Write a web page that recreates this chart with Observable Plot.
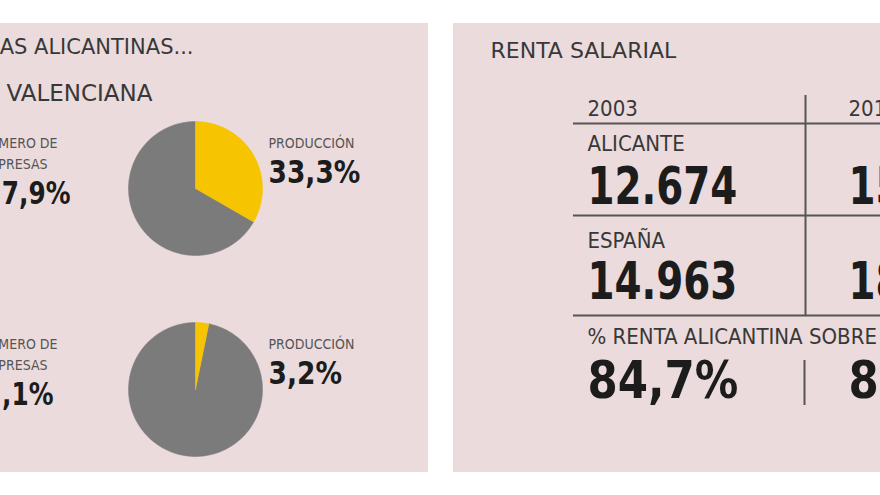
<!DOCTYPE html>
<html>
<head>
<meta charset="utf-8">
<script src="https://cdn.jsdelivr.net/npm/d3@7"></script>
<script src="https://cdn.jsdelivr.net/npm/@observablehq/plot@0.6"></script>
<style>
  html, body { margin: 0; padding: 0; background: #ffffff; overflow: hidden; }
  #chart svg { display: block; overflow: hidden; }
</style>
</head>
<body>
<div id="chart"></div>
<script>
// ---------- DATA ----------
const leftTitles = ["AS ALICANTINAS...", "COMUNIDAD VALENCIANA"];
const rightTitle = "RENTA SALARIAL";
const pieNames = ["Comunidad Valenciana", "España"];
const produccion = [33.3, 3.2];              // % production (yellow slice)
const produccionText = ["33,3%", "3,2%"];
const empresasText = ["7,9%", ",1%"];        // visible part of "nº de empresas" share
const labelEmpresas = ["NÚMERO DE", "EMPRESAS"];
const labelProduccion = "PRODUCCIÓN";
const years = ["2003", "201"];
const rowLabels = ["ALICANTE", "ESPAÑA", "% RENTA ALICANTINA SOBRE ESPAÑA"];
const alicante = ["12.674", "15"];
const espana = ["14.963", "18"];
const pctRenta = ["84,7%", "8,"];

// ---------- LAYOUT (pixel positions, not data) ----------
const W = 880, H = 495;
const panelColor = "#ebdbdc";
const yellow = "#f6c400", gray = "#7b7b7b", ink = "#1c1c1c", soft = "#383838", small = "#555555", lineC = "#555";
const pieCenters = [[195, 188], [195, 389]];
const R = 67;
const condF = "'DejaVu Sans Condensed', 'DejaVu Sans', sans-serif";
const wideF = "'DejaVu Sans', sans-serif";

const panels = [
  {x1: -10, x2: 428, y1: 23, y2: 472},
  {x1: 453, x2: 900, y1: 23, y2: 472}
];

// pie slice polygons computed from the production values
const slices = [];
pieNames.forEach((name, i) => {
  const [cx, cy] = pieCenters[i];
  const a = produccion[i] / 100 * 2 * Math.PI;
  const parts = [["yellow", 0, a], ["gray", a, 2 * Math.PI]];
  parts.forEach(([kind, a0, a1]) => {
    const id = name + "-" + kind;
    slices.push({id, kind, x: cx, y: cy});
    const n = Math.max(2, Math.ceil((a1 - a0) / (Math.PI / 180)));
    for (let k = 0; k <= n; k++) {
      const t = a0 + (a1 - a0) * k / n;
      slices.push({id, kind, x: cx + R * Math.sin(t), y: cy - R * Math.cos(t)});
    }
    slices.push({id, kind, x: cx, y: cy});
  });
});

// text groups
const titlesEnd = [
  {text: leftTitles[0], x: 193, y: 53, size: 21},
  {text: leftTitles[1], x: 152, y: 100, size: 23}
];
const titlesStart = [
  {text: rightTitle, x: 490, y: 57, size: 22}
];
const smallEnd = [], smallStart = [], pctEnd = [], pctStart = [];
pieNames.forEach((name, i) => {
  const cy = pieCenters[i][1];
  smallEnd.push({text: labelEmpresas[0], x: 57, y: cy - 41});
  smallEnd.push({text: labelEmpresas[1], x: 47, y: cy - 20});
  pctEnd.push({text: empresasText[i], x: i ? 53 : 70, y: cy + 15});
  smallStart.push({text: labelProduccion, x: 268, y: cy - 41});
  pctStart.push({text: produccionText[i], x: 268, y: cy - 6});
});
const colX = [587, 848];
const rowText = [], bigText = [], bigPct = [];
years.forEach((yr, j) => {
  rowText.push({text: yr, x: colX[j], y: 115, size: 22});
  bigText.push({text: alicante[j], x: colX[j], y: 203});
  bigText.push({text: espana[j], x: colX[j], y: 298});
  bigPct.push({text: pctRenta[j], x: colX[j], y: 397});
});
rowText.push({text: rowLabels[0], x: 587, y: 150, size: 22});
rowText.push({text: rowLabels[1], x: 587, y: 247, size: 22});
rowText.push({text: rowLabels[2], x: 587, y: 343, size: 22});

const hLines = [{x1: 573, x2: 900, y: 123}, {x1: 573, x2: 900, y: 215}, {x1: 573, x2: 900, y: 315}];
const vLines = [{x: 805, y1: 95, y2: 315}, {x: 804, y1: 360, y2: 405}];

const chart = Plot.plot({
  width: W, height: H,
  margin: 0,
  x: {type: "identity", axis: null},
  y: {type: "identity", axis: null},
  style: {background: "#ffffff"},
  marks: [
    Plot.rect(panels, {x1: "x1", x2: "x2", y1: "y1", y2: "y2", fill: panelColor}),
    Plot.line(slices.filter(d => d.kind === "gray"), {x: "x", y: "y", z: "id", fill: gray, stroke: gray, strokeWidth: 0.5}),
    Plot.line(slices.filter(d => d.kind === "yellow"), {x: "x", y: "y", z: "id", fill: yellow, stroke: yellow, strokeWidth: 0.5}),
    Plot.ruleY(hLines, {x1: "x1", x2: "x2", y: "y", stroke: lineC, strokeWidth: 2}),
    Plot.ruleX(vLines, {x: "x", y1: "y1", y2: "y2", stroke: lineC, strokeWidth: 2}),
    Plot.text(titlesEnd, {x: "x", y: "y", text: "text", fontSize: "size", textAnchor: "end", lineAnchor: "bottom", fontFamily: wideF, fill: soft}),
    Plot.text(titlesStart, {x: "x", y: "y", text: "text", fontSize: "size", textAnchor: "start", lineAnchor: "bottom", fontFamily: wideF, fill: soft}),
    Plot.text(smallEnd, {x: "x", y: "y", text: "text", fontSize: 14, textAnchor: "end", lineAnchor: "bottom", fontFamily: condF, fill: small}),
    Plot.text(smallStart, {x: "x", y: "y", text: "text", fontSize: 14, textAnchor: "start", lineAnchor: "bottom", fontFamily: condF, fill: small}),
    Plot.text(pctEnd, {x: "x", y: "y", text: "text", fontSize: 32, fontWeight: "bold", textAnchor: "end", lineAnchor: "bottom", fontFamily: condF, fill: ink, ariaDescription: "pctEnd"}),
    Plot.text(pctStart, {x: "x", y: "y", text: "text", fontSize: 32, fontWeight: "bold", textAnchor: "start", lineAnchor: "bottom", fontFamily: condF, fill: ink, ariaDescription: "pctStart"}),
    Plot.text(rowText, {x: "x", y: "y", text: "text", fontSize: "size", textAnchor: "start", lineAnchor: "bottom", fontFamily: condF, fill: soft}),
    Plot.text(bigText, {x: "x", y: "y", text: "text", fontSize: 52, fontWeight: "bold", textAnchor: "start", lineAnchor: "bottom", fontFamily: condF, fill: ink, ariaDescription: "big"}),
    Plot.text(bigPct, {x: "x", y: "y", text: "text", fontSize: 52, fontWeight: "bold", textAnchor: "start", lineAnchor: "bottom", fontFamily: condF, fill: ink, ariaDescription: "bigPct"})
  ]
});
// horizontal condensing of the heavy numerals (appended to Plot's own translate)
const squeeze = {big: 0.83, bigPct: 0.93, pctStart: 0.92, pctEnd: 0.86};
Object.entries(squeeze).forEach(([key, s]) => {
  d3.select(chart).selectAll(`g[aria-description="${key}"] text`)
    .attr("transform", function() { return (this.getAttribute("transform") || "") + ` scale(${s},1)`; });
});
document.getElementById("chart").appendChild(chart);
</script>
</body>
</html>
